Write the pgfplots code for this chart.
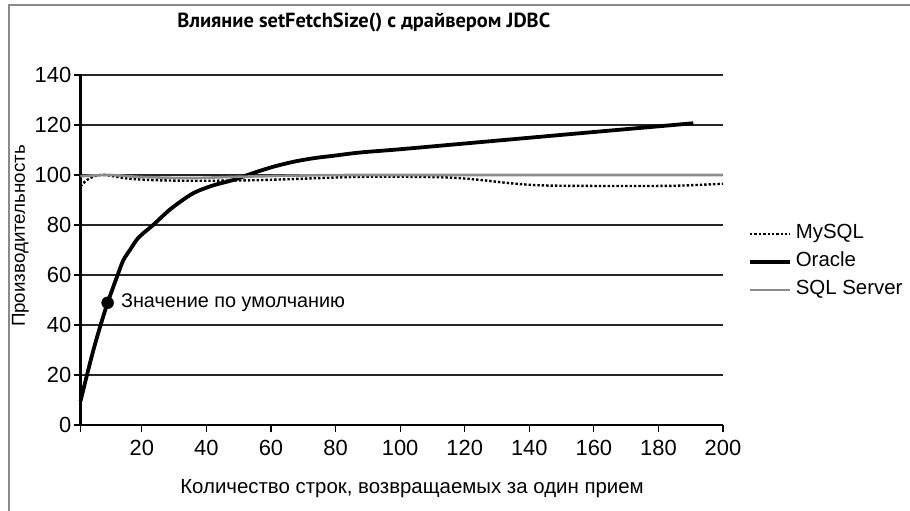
\documentclass[border=0pt]{standalone}
\usepackage{fontspec}
\setmainfont{Liberation Sans}
\newfontfamily\titlefont{PT Sans}
\usepackage{pgfplots}
\pgfplotsset{compat=1.18}
\definecolor{sqlgray}{HTML}{8C8C8C}
\definecolor{framegray}{HTML}{8A8A8A}
\begin{document}
\begin{tikzpicture}
\path[use as bounding box] (0,0) rectangle (910bp,-511bp);
\draw[framegray, line width=2bp] (9bp,-530bp) -- (9bp,-5bp) -- (930bp,-5bp);
\begin{axis}[
  at={(80.5bp,-425bp)}, anchor=south west,
  scale only axis, width=642.5bp, height=350bp,
  xmin=1, xmax=200, ymin=0, ymax=140,
  axis x line*=bottom, axis y line*=left,
  axis line style={line width=2.6bp, black},
  xtick={1,20,40,60,80,100,120,140,160,180,200},
  xticklabels={,20,40,60,80,100,120,140,160,180,200},
  ytick={0,20,...,140},
  tick align=outside, major tick length=7bp,
  tick style={black, line width=1.2bp},
  ymajorgrids, major grid style={black!85, line width=1.3bp},
  /pgf/number format/assume math mode=true,
  ticklabel style={font=\fontsize{22}{26}\selectfont},
  yticklabel style={inner sep=2bp},
  xticklabel style={inner sep=7.5bp},
  title={\titlefont\bfseries\fontsize{20.5}{24}\selectfont Влияние setFetchSize() с драйвером JDBC},
  title style={at={(axis description cs:0.441,1.119)}, anchor=base, inner sep=0pt},
  xlabel={Количество строк, возвращаемых за один прием},
  xlabel style={at={(axis description cs:0.516,-0.1943)}, anchor=base, inner sep=0pt, font=\fontsize{20.5}{24}\selectfont},
  ylabel={Производительность},
  ylabel style={at={(axis description cs:-0.0864,0.54)}, anchor=base, rotate=0, inner sep=0pt, font=\fontsize{18.8}{22}\selectfont},
  legend style={at={(1.034,0.466)}, anchor=west, draw=none, fill=none,
    font=\fontsize{20.5}{24}\selectfont, row sep=10bp, column sep=4bp,
    nodes={inner sep=0pt, text height=14bp, text depth=4bp}},
  legend cell align=left,
  legend image code/.code={\draw[#1] (0bp,0bp) -- (40bp,0bp);},
  clip=false,
]
\addplot[black, line width=2.4bp, dotted, smooth] coordinates {
(1,95.5) (3,98) (6,99.8) (9,100) (12,99.3) (17,98.4) (25,97.9) (35,97.7) (50,97.8) (65,98.3) (85,99.2) (100,99.3) (115,99) (125,98) (135,96.6) (145,95.8) (165,95.6) (185,95.7) (200,96.5)
};
\addlegendentry{MySQL}
\addplot[black, line width=3.8bp, smooth] coordinates {
(1,9.5) (3,20) (5,30) (7,39) (9.4,48.9) (12.7,60.7) (14.3,66) (16.3,70) (19,75) (23.5,80) (29,86.5) (35.9,92.7) (42,95.8) (48.3,98) (55,101) (60.7,103.3) (67,105.3) (73.1,106.7) (80,107.8) (87.6,109) (100,110.3) (120,112.6) (140,114.9) (160,117.2) (190.8,120.7)
};
\addlegendentry{Oracle}
\addplot[sqlgray, line width=2.6bp, smooth] coordinates {
(1,99.5) (10,100) (20,99.2) (35,98.8) (50,99.3) (70,99.8) (90,100) (200,100)
};
\addlegendentry{SQL Server}
\addplot[only marks, mark=*, mark size=6bp, black, forget plot] coordinates {(9.4,48.9)};
\node[anchor=west, inner sep=0pt, font=\fontsize{19.9}{23}\selectfont] at (axis cs:13.5,48.8) {Значение по умолчанию};
\end{axis}
\end{tikzpicture}
\end{document}
